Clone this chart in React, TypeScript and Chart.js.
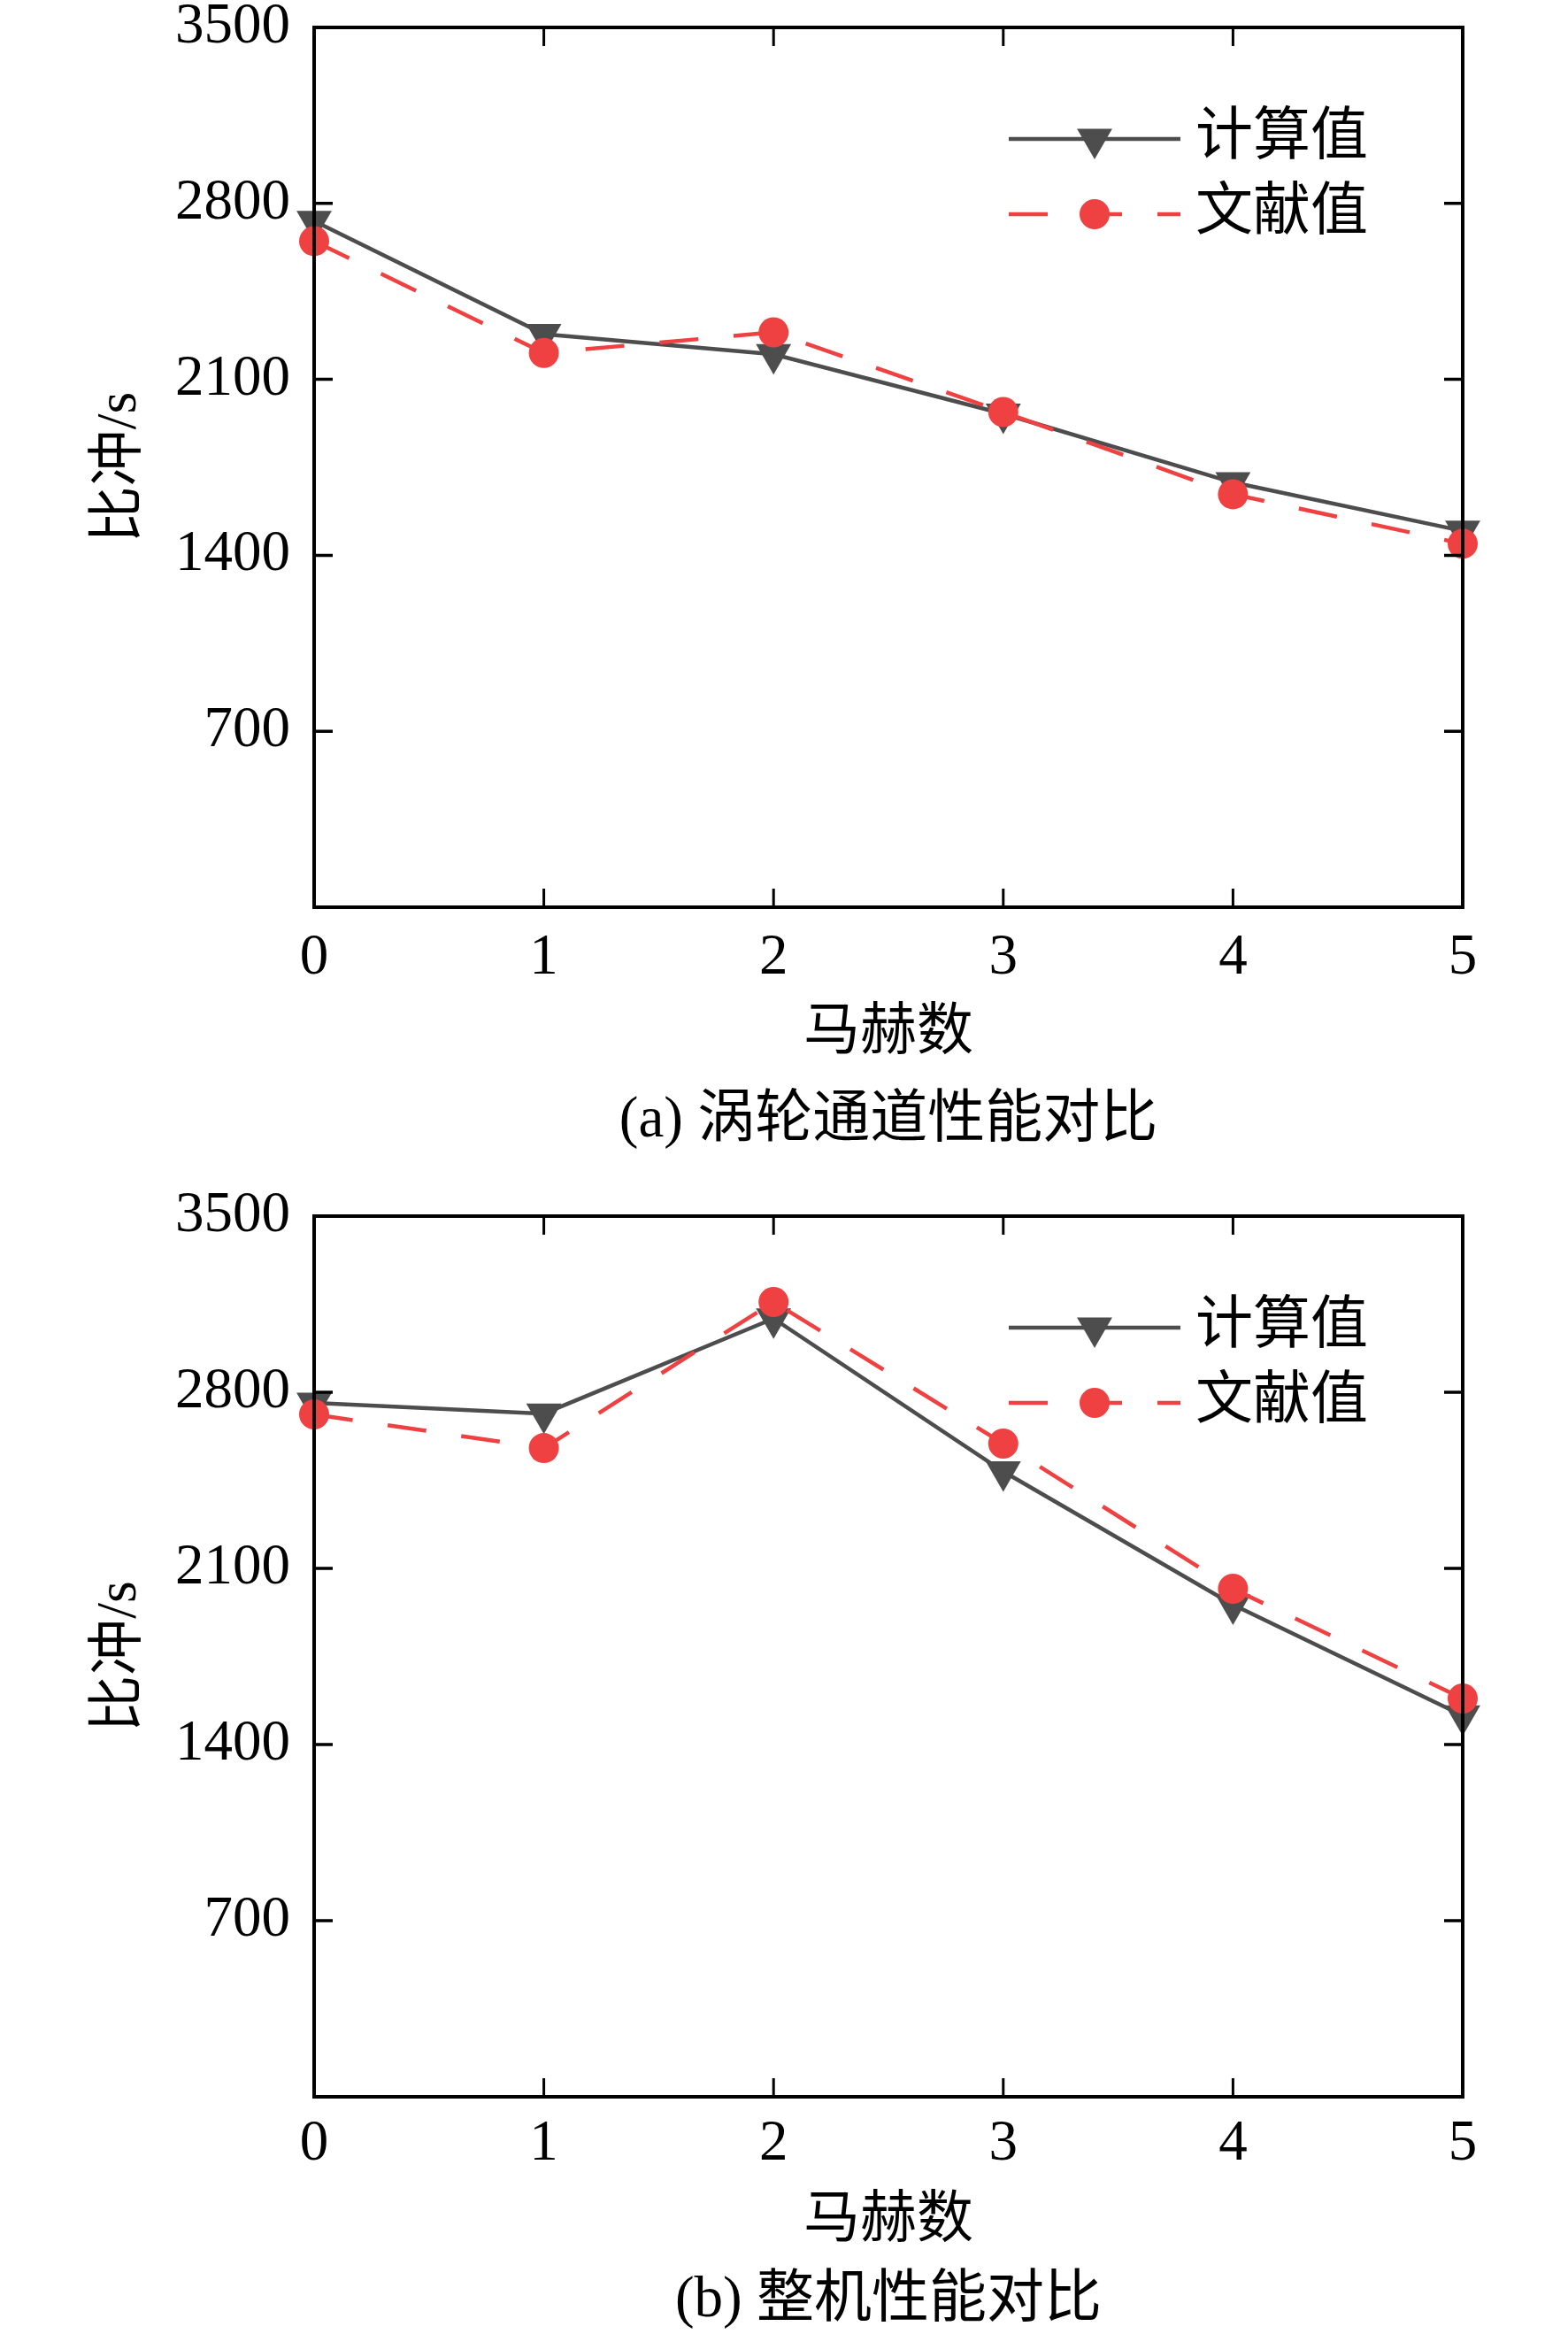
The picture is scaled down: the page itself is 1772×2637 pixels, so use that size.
import React, { useEffect, useRef } from "react";
import { Chart, registerables } from "chart.js";
import { drawPoint } from "chart.js/helpers";

Chart.register(...registerables);

// data
const machLabels = ["0", "1", "2", "3", "4", "5"];
const yTickValues = [0, 700, 1400, 2100, 2800, 3500];
const seriesNames = ["计算值", "文献值"];

const turbineCalc = [2730, 2280, 2200, 1963, 1690, 1497];
const turbineLit = [2650, 2205, 2287, 1970, 1643, 1446];

const engineCalc = [2758, 2715, 3093, 2485, 1956, 1515];
const engineLit = [2712, 2578, 3159, 2596, 2019, 1583];

const LATIN = "'Liberation Serif', 'Times New Roman', serif";
const MIXED = "'Liberation Serif', 'Noto Sans CJK SC', serif";
const GRAY = "#4D4D4D";
const RED = "#EF4141";

// black frame with inward ticks, drawn over the data like the original
const framePlugin = {
  id: "frame",
  afterDatasetsDraw(chart) {
    const { ctx, chartArea, scales } = chart;
    const { left, right, top, bottom } = chartArea;
    const tick = 21;
    ctx.save();
    ctx.strokeStyle = "#000";
    ctx.lineWidth = 4;
    ctx.setLineDash([]);
    ctx.strokeRect(left, top, right - left, bottom - top);
    ctx.lineWidth = 3.5;
    ctx.beginPath();
    scales.y.ticks.forEach((t) => {
      const py = scales.y.getPixelForValue(t.value);
      ctx.moveTo(left, py);
      ctx.lineTo(left + tick, py);
      ctx.moveTo(right, py);
      ctx.lineTo(right - tick, py);
    });
    ctx.stroke();
    ctx.lineWidth = 3;
    ctx.beginPath();
    scales.x.ticks.forEach((t, i) => {
      const px = scales.x.getPixelForTick(i);
      ctx.moveTo(px, bottom);
      ctx.lineTo(px, bottom - tick);
      ctx.moveTo(px, top);
      ctx.lineTo(px, top + tick);
    });
    ctx.stroke();
    ctx.restore();
  },
};

// legend with the line style and marker together, as in the figure
const lineLegendPlugin = {
  id: "lineLegend",
  afterDraw(chart) {
    const { ctx, chartArea } = chart;
    const x0 = chartArea.right - 513;
    const x1 = chartArea.right - 319;
    const textX = chartArea.right - 302;
    const rows = [chartArea.top + 126, chartArea.top + 211];
    const sets = chart.data.datasets;
    ctx.save();
    sets.forEach((ds, i) => {
      const y = rows[i];
      ctx.strokeStyle = ds.borderColor;
      ctx.lineWidth = ds.borderWidth;
      ctx.setLineDash(ds.borderDash || []);
      ctx.lineDashOffset = 0;
      ctx.beginPath();
      ctx.moveTo(x0, y);
      ctx.lineTo(x1, y);
      ctx.stroke();
      ctx.setLineDash([]);
      ctx.fillStyle = ds.pointBackgroundColor;
      ctx.strokeStyle = ds.pointBackgroundColor;
      drawPoint(
        ctx,
        {
          pointStyle: ds.pointStyle,
          rotation: ds.pointRotation || 0,
          radius: ds.pointRadius,
          borderWidth: 0,
        },
        (x0 + x1) / 2,
        y
      );
      ctx.fillStyle = "#000";
      ctx.font = `65px ${MIXED}`;
      ctx.textAlign = "left";
      ctx.textBaseline = "middle";
      ctx.fillText(ds.label, textX, y);
    });
    ctx.restore();
  },
};

const ImpulseChart = ({ calc, lit, caption, top, height, captionPad, xHeight, xTitlePad, tickPad }) => {
  const canvasRef = useRef(null);
  const chartRef = useRef(null);

  useEffect(() => {
    if (!canvasRef.current) return;
    if (chartRef.current) chartRef.current.destroy();

    chartRef.current = new Chart(canvasRef.current, {
      type: "line",
      data: {
        labels: machLabels,
        datasets: [
          {
            label: seriesNames[0],
            data: calc,
            borderColor: GRAY,
            backgroundColor: GRAY,
            borderWidth: 4.5,
            pointStyle: "triangle",
            pointRotation: 180,
            pointRadius: 23,
            pointBorderWidth: 0,
            pointBackgroundColor: GRAY,
            tension: 0,
            clip: false,
            order: 1,
          },
          {
            label: seriesNames[1],
            data: lit,
            borderColor: RED,
            backgroundColor: RED,
            borderWidth: 4.5,
            borderDash: [44, 40],
            pointStyle: "circle",
            pointRadius: 17,
            pointBorderWidth: 0,
            pointBackgroundColor: RED,
            tension: 0,
            clip: false,
            order: 0,
          },
        ],
      },
      options: {
        responsive: true,
        maintainAspectRatio: false,
        animation: false,
        events: [],
        layout: { padding: { top: 31, right: 119, bottom: 0, left: 0 } },
        scales: {
          x: {
            type: "category",
            offset: false,
            grid: { display: false, drawTicks: false },
            border: { display: false },
            ticks: {
              color: "#000",
              padding: tickPad,
              maxRotation: 0,
              font: { family: LATIN, size: 65, lineHeight: 1.2 },
            },
            title: {
              display: true,
              text: "马赫数",
              color: "#000",
              font: { family: MIXED, size: 64, lineHeight: 1.2 },
              padding: { top: 0, bottom: xTitlePad },
            },
            afterFit: (s) => {
              s.height = xHeight;
              s.paddingLeft = 0;
              s.paddingRight = 0;
            },
          },
          y: {
            min: 0,
            max: 3500,
            grid: { display: false, drawTicks: false },
            border: { display: false },
            afterBuildTicks: (s) => {
              s.ticks = yTickValues.map((v) => ({ value: v }));
            },
            ticks: {
              color: "#000",
              padding: 27,
              font: { family: LATIN, size: 65, lineHeight: 1.2 },
              callback: (v) => (v === 0 ? "" : String(v)),
            },
            title: {
              display: true,
              text: "比冲/s",
              color: "#000",
              font: { family: MIXED, size: 64, lineHeight: 1.2 },
              padding: { top: 98, bottom: 0 },
            },
            afterFit: (s) => {
              s.width = 355;
              s.paddingTop = 0;
              s.paddingBottom = 0;
            },
          },
        },
        plugins: {
          legend: { display: false },
          tooltip: { enabled: false },
          title: {
            display: true,
            text: caption,
            position: "bottom",
            fullSize: false,
            color: "#000",
            font: { family: MIXED, size: 65, weight: "normal", lineHeight: 1.0 },
            padding: { top: 0, bottom: captionPad },
          },
        },
      },
      plugins: [framePlugin, lineLegendPlugin],
    });

    return () => {
      if (chartRef.current) {
        chartRef.current.destroy();
        chartRef.current = null;
      }
    };
  }, []);

  return (
    <div style={{ position: "absolute", left: 0, top, width: 1772, height }}>
      <canvas ref={canvasRef} />
    </div>
  );
};

const App = () => (
  <div style={{ position: "absolute", left: 0, top: 0, width: 1772, height: 2637, background: "#fff" }}>
    <ImpulseChart
      calc={turbineCalc}
      lit={turbineLit}
      caption="(a) 涡轮通道性能对比"
      top={0}
      height={1320}
      captionPad={20.5}
      xHeight={209.5}
      xTitlePad={27.5}
      tickPad={19}
    />
    <ImpulseChart
      calc={engineCalc}
      lit={engineLit}
      caption="(b) 整机性能对比"
      top={1343}
      height={1294}
      captionPad={4.5}
      xHeight={198.5}
      xTitlePad={18.5}
      tickPad={15}
    />
  </div>
);

export default App;
